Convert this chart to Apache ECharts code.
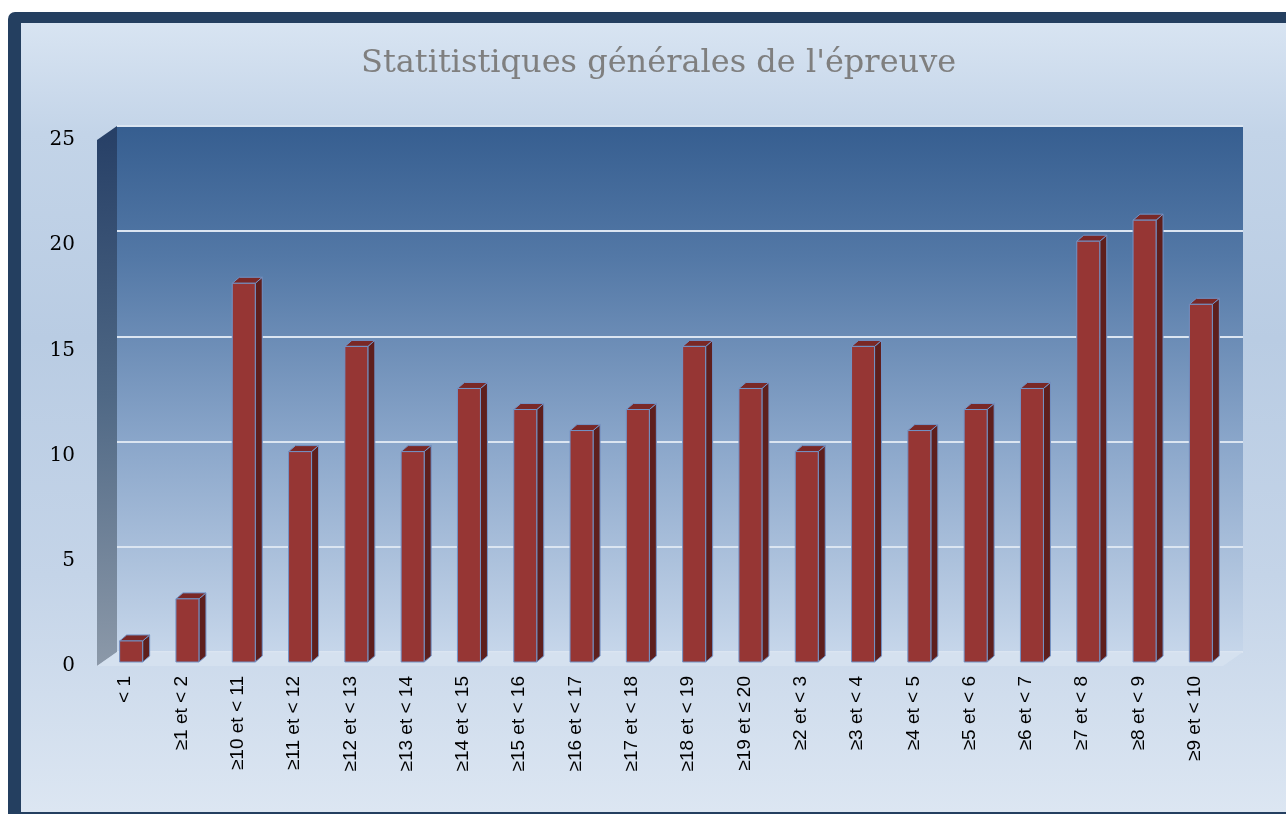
<!DOCTYPE html>
<html>
<head>
<meta charset="utf-8">
<script src="https://cdn.jsdelivr.net/npm/echarts@6/dist/echarts.min.js"></script>
<style>
    html, body { margin: 0; padding: 0; background: #ffffff; overflow: hidden; }
    #frame {
        position: absolute; left: 8px; top: 12px; width: 1320px; height: 830px;
        background: #243f60; border-radius: 7px;
    }
    #panel {
        position: absolute; left: 21px; top: 23px; width: 1300px; height: 789px;
        background: linear-gradient(to bottom, #d8e4f2 0%, #c3d4e8 14%, #b9cce3 40%, #c4d4e8 70%, #dce6f2 100%);
    }
    #chart { position: absolute; left: 0; top: 0; width: 1286px; height: 814px; }
</style>
</head>
<body>
<div id="frame"></div>
<div id="panel"></div>
<div id="chart"></div>
<script>
const titleText = "Statitistiques générales de l'épreuve";

const categories = [
    '< 1', '≥1 et < 2', '≥10 et < 11', '≥11 et < 12', '≥12 et < 13',
    '≥13 et < 14', '≥14 et < 15', '≥15 et < 16', '≥16 et < 17', '≥17 et < 18',
    '≥18 et < 19', '≥19 et ≤ 20', '≥2 et < 3', '≥3 et < 4', '≥4 et < 5',
    '≥5 et < 6', '≥6 et < 7', '≥7 et < 8', '≥8 et < 9', '≥9 et < 10'
];

const counts = [1, 3, 18, 10, 15, 10, 13, 12, 11, 12, 15, 13, 10, 15, 11, 12, 13, 20, 21, 17];

const yMin = 0;
const yMax = 25;
const yStep = 5;

// 3D look: wall depth and bar depth, in pixels
const WALL_DX = 20, WALL_DY = -14;
const BAR_SHIFT_X = 6, BAR_SHIFT_Y = -4;
const BAR_W = 23, BAR_DX = 7, BAR_DY = -6;

window.onload = () => {
    let chart = echarts.init(document.getElementById('chart'));

    let renderWalls = function (params, api) {
        let r = params.coordSys;
        let x0 = r.x, y0 = r.y, y1 = r.y + r.height, x1 = r.x + r.width;
        return {
            type: 'group',
            children: [
                {
                    type: 'polygon',
                    shape: { points: [[x0, y0], [x0 + WALL_DX, y0 + WALL_DY], [x0 + WALL_DX, y1 + WALL_DY], [x0, y1]] },
                    style: {
                        fill: new echarts.graphic.LinearGradient(0, 0, 0, 1, [
                            { offset: 0, color: '#263f66' },
                            { offset: 0.5, color: '#4f6885' },
                            { offset: 1, color: '#8c99a9' }
                        ])
                    }
                },
                {
                    type: 'polygon',
                    shape: { points: [[x0, y1], [x0 + WALL_DX, y1 + WALL_DY], [x1 + WALL_DX, y1 + WALL_DY], [x1, y1]] },
                    style: { fill: 'rgba(214,226,240,0.85)' }
                }
            ]
        };
    };

    let renderBar = function (params, api) {
        let idx = api.value(0);
        let base = api.coord([idx, 0]);
        let top = api.coord([idx, api.value(1)]);
        let x = base[0] - BAR_W / 2 + BAR_SHIFT_X;
        let yb = base[1] + BAR_SHIFT_Y;
        let yt = top[1] + BAR_SHIFT_Y;
        let edge = { stroke: '#7393c6', lineWidth: 1 };
        return {
            type: 'group',
            children: [
                {
                    type: 'polygon',
                    shape: { points: [[x + BAR_W, yt], [x + BAR_W + BAR_DX, yt + BAR_DY], [x + BAR_W + BAR_DX, yb + BAR_DY], [x + BAR_W, yb]] },
                    style: Object.assign({ fill: '#5e1f1d' }, edge)
                },
                {
                    type: 'polygon',
                    shape: { points: [[x, yt], [x + BAR_DX, yt + BAR_DY], [x + BAR_W + BAR_DX, yt + BAR_DY], [x + BAR_W, yt]] },
                    style: Object.assign({ fill: '#7a2826' }, edge)
                },
                {
                    type: 'rect',
                    shape: { x: x, y: yt, width: BAR_W, height: yb - yt },
                    style: Object.assign({ fill: '#963634' }, edge)
                }
            ]
        };
    };

    chart.setOption({
        animation: false,
        title: {
            text: titleText,
            left: 356,
            top: 43,
            textStyle: { fontFamily: 'DejaVu Serif', fontSize: 32, fontWeight: 'normal', color: '#7f7f7f' }
        },
        grid: [
            { left: 97, top: 140, width: 1126, height: 526 },
            {
                left: 97 + WALL_DX, top: 140 + WALL_DY, width: 1126, height: 526, show: true, borderWidth: 0,
                backgroundColor: new echarts.graphic.LinearGradient(0, 0, 0, 1, [
                    { offset: 0, color: '#365e90' },
                    { offset: 0.25, color: '#5378a6' },
                    { offset: 0.6, color: '#8aa6ca' },
                    { offset: 1, color: '#c6d6ea' }
                ])
            }
        ],
        xAxis: [
            {
                type: 'category', gridIndex: 0, data: categories,
                axisLine: { show: false }, axisTick: { show: false },
                axisLabel: { rotate: 90, margin: 10, interval: 0, color: '#000', fontFamily: 'Liberation Sans', fontSize: 19 }
            },
            { type: 'category', gridIndex: 1, data: categories, show: false }
        ],
        yAxis: [
            {
                type: 'value', gridIndex: 0, min: yMin, max: yMax, interval: yStep,
                axisLine: { show: false }, axisTick: { show: false }, splitLine: { show: false },
                axisLabel: { margin: 22, color: '#000', fontFamily: 'DejaVu Serif', fontSize: 20 }
            },
            {
                type: 'value', gridIndex: 1, min: yMin, max: yMax, interval: yStep,
                axisLine: { show: false }, axisTick: { show: false }, axisLabel: { show: false },
                splitLine: { lineStyle: { color: '#dbe5f1', width: 2 } }
            }
        ],
        series: [
            {
                type: 'custom', name: 'walls', xAxisIndex: 0, yAxisIndex: 0, z: 1,
                renderItem: renderWalls, data: [[0, 0]], silent: true
            },
            {
                type: 'custom', name: 'Effectif', xAxisIndex: 0, yAxisIndex: 0, z: 3,
                renderItem: renderBar,
                data: counts.map((v, i) => [i, v])
            }
        ]
    });
};
</script>
</body>
</html>
